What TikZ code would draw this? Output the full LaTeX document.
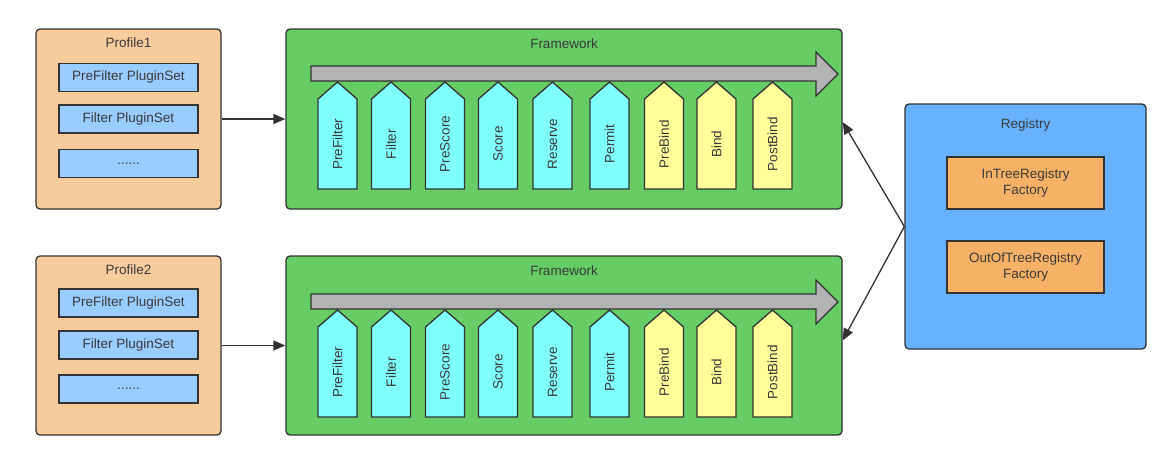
\documentclass[tikz,border=0pt]{standalone}
\usepackage{fontspec}
\setmainfont{Liberation Sans}
\usetikzlibrary{arrows.meta}
\definecolor{peach}{HTML}{F8CB9C}
\definecolor{lblue}{HTML}{99CCFF}
\definecolor{fgreen}{HTML}{66CC66}
\definecolor{bargray}{HTML}{B3B3B3}
\definecolor{pcyan}{HTML}{80FFFF}
\definecolor{pyellow}{HTML}{FFFF99}
\definecolor{regblue}{HTML}{66B2FF}
\definecolor{forange}{HTML}{F5B266}
\definecolor{edge}{HTML}{333333}
\definecolor{txt}{HTML}{3A3A3A}
\tikzset{
  outer/.style={draw=edge, line width=1.3pt, rounded corners=4pt, inner sep=0pt},
  inbox/.style={draw=edge, line width=1.3pt, fill=lblue, minimum width=139pt, minimum height=28pt, inner sep=0pt},
  fact/.style={draw=edge, line width=1.3pt, fill=forange, minimum width=157pt, minimum height=52pt, inner sep=0pt, align=center},
  conn/.style={draw=edge, line width=1.3pt, -{Triangle[length=12pt,width=10pt]}},
  plug/.style={draw=edge, line width=1.3pt, line join=miter},
  bar/.style={draw=edge, line width=1.3pt, fill=bargray, line join=miter},
  ttl/.style={text=txt}
}
\begin{document}
\begin{tikzpicture}[x=1pt,y=-1pt, font=\fontsize{13.5}{16}\selectfont, text=txt]
\useasboundingbox (0,0) rectangle (1174,456);
\fill[white] (0,0) rectangle (1174,456);

% Profiles
\node[outer, fill=peach, minimum width=185pt, minimum height=180pt] (p1) at (128.5,119) {};
\node[ttl] (p1t) at (128.5,43) {Profile1};
\node[inbox] (p1a) at (128.5,77.5) {PreFilter PluginSet};
\node[inbox] (p1b) at (128.5,119) {Filter PluginSet};
\node[inbox] (p1c) at (128.5,163.5) {......};

\node[outer, fill=peach, minimum width=185pt, minimum height=179pt] (p2) at (128.5,345.5) {};
\node[ttl] (p2t) at (128.5,270) {Profile2};
\node[inbox] (p2a) at (128.5,303) {PreFilter PluginSet};
\node[inbox] (p2b) at (128.5,345) {Filter PluginSet};
\node[inbox] (p2c) at (128.5,389) {......};

% Frameworks
\node[outer, fill=fgreen, minimum width=556pt, minimum height=180pt] (f1) at (564,119) {};
\node[ttl] (f1t) at (564,44) {Framework};
\node[outer, fill=fgreen, minimum width=556pt, minimum height=179pt] (f2) at (564,345.5) {};
\node[ttl] (f2t) at (564,271) {Framework};

\foreach \o in {0,228}{
  \draw[bar] (311,66+\o) -- (816,66+\o) -- (816,52+\o) -- (838,74+\o) -- (816,96+\o) -- (816,81+\o) -- (311,81+\o) -- cycle;
  \foreach \cx/\col/\lab in {337.5/pcyan/PreFilter, 391/pcyan/Filter, 445/pcyan/PreScore, 498/pcyan/Score, 552.5/pcyan/Reserve, 609.5/pcyan/Permit, 664/pyellow/PreBind, 716.5/pyellow/Bind, 772.5/pyellow/PostBind}{
    \draw[plug, fill=\col] (\cx-19.5,189+\o) -- (\cx-19.5,99+\o) -- (\cx,82+\o) -- (\cx+19.5,99+\o) -- (\cx+19.5,189+\o) -- cycle;
    \node[rotate=90] at (\cx,144+\o) {\lab};
  }
}

% Registry
\node[outer, fill=regblue, minimum width=241pt, minimum height=245pt] (reg) at (1025.5,226.5) {};
\node[ttl] (regt) at (1025.5,125) {Registry};
\node[fact] (in) at (1025.5,183) {InTreeRegistry\\Factory};
\node[fact] (out) at (1025.5,267) {OutOfTreeRegistry\\Factory};

% Connectors
\draw[conn] (p1.east) -- (f1.west);
\draw[conn] (p2.east) -- (f2.west);
\draw[conn] (reg.west) -- ([yshift=-3pt]f1.east);
\draw[conn] (reg.west) -- ([yshift=5pt]f2.east);
\end{tikzpicture}
\end{document}
